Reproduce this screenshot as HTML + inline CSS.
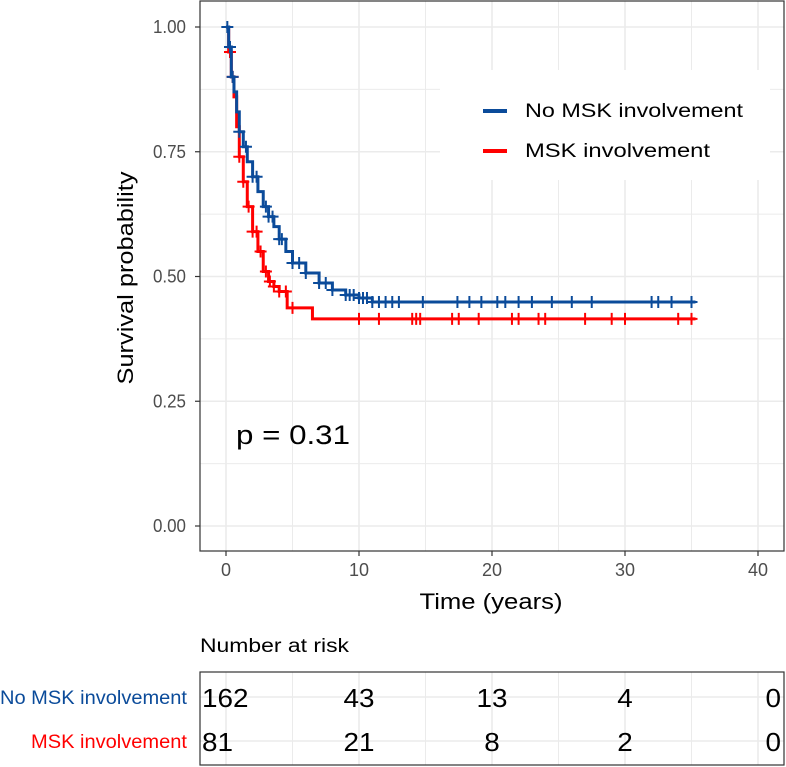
<!DOCTYPE html>
<html><head><meta charset="utf-8"><style>
body{margin:0;background:#fff;}
svg{display:block;font-family:"Liberation Sans",Arial,sans-serif;}
</style></head><body>
<svg id="chart" width="786" height="767" viewBox="0 0 786 767">
<g id="grid"></g>
<g id="curves"></g>
<rect x="200" y="1" width="584" height="550" fill="none" stroke="#333" stroke-width="1.2"/>
<g id="axes"></g>
<text x="0" y="0" transform="translate(133,278) rotate(-90)" text-anchor="middle" font-size="22" textLength="213" lengthAdjust="spacingAndGlyphs" fill="#000">Survival probability</text>
<text x="491" y="609" text-anchor="middle" font-size="22" textLength="143" lengthAdjust="spacingAndGlyphs" fill="#000">Time (years)</text>
<text x="236" y="444" font-size="27" textLength="114" lengthAdjust="spacingAndGlyphs" fill="#000">p = 0.31</text>
<g>
<rect x="440" y="70" width="330" height="110" fill="#fff"/>
<line x1="483" y1="111" x2="507" y2="111" stroke="#0b4b9a" stroke-width="4"/>
<text x="525" y="117" font-size="19" textLength="218" lengthAdjust="spacingAndGlyphs">No MSK involvement</text>
<line x1="483" y1="151" x2="507" y2="151" stroke="#f00" stroke-width="4"/>
<text x="525" y="157" font-size="19" textLength="185" lengthAdjust="spacingAndGlyphs">MSK involvement</text>
</g>
<text x="200" y="652" font-size="19" textLength="149" lengthAdjust="spacingAndGlyphs">Number at risk</text>
<g id="risk"></g>
</svg>
<script>
const xTicks=[0,10,20,30,40];
const yTicks=[0,0.25,0.5,0.75,1];
const yTickLabels=["0.00","0.25","0.50","0.75","1.00"];
const blueT=[0,0.2,0.4,0.6,0.8,1,1.3,1.6,2,2.4,2.8,3.2,3.6,4,4.5,5,6,7,8,9,10,11,35.3];
const blueS=[1,0.96,0.9,0.87,0.83,0.79,0.76,0.73,0.70,0.67,0.64,0.62,0.6,0.575,0.55,0.527,0.507,0.487,0.473,0.463,0.457,0.449,0.449];
const redT=[0,0.2,0.4,0.6,0.8,1,1.3,1.6,2,2.4,2.8,3.2,3.6,4,4.6,6.5,35.3];
const redS=[1,0.95,0.9,0.86,0.8,0.74,0.69,0.64,0.59,0.55,0.51,0.49,0.48,0.47,0.437,0.415,0.415];
const blueCens=[0.1,0.3,0.5,1,1.5,2,2.3,3,3.2,3.5,4,4.2,5,5.5,6,7,7.5,8,9,9.3,9.6,10,10.3,10.6,11,11.5,12,12.5,13,14.8,17.4,18.3,19.2,20.4,21,22,23,24.5,26,27.5,32,32.5,33.5,35];
const redCens=[0.3,0.5,1,1.3,1.7,2,2.3,2.6,3,3.3,3.6,4,4.5,5,10,11.5,14,14.3,14.6,17,17.5,19,21.5,22,23.5,24,27,29,30,34,35];
const riskGroups=["No MSK involvement","MSK involvement"];
const riskBlue=[162,43,13,4,0];
const riskRed=[81,21,8,2,0];
const NS="http://www.w3.org/2000/svg";
const X=t=>226+t*13.3, Y=s=>526-s*499;
function mk(tag,at,parent){const e=document.createElementNS(NS,tag);for(const k in at)e.setAttribute(k,at[k]);parent.appendChild(e);return e;}
const grid=document.getElementById('grid'),axes=document.getElementById('axes'),curves=document.getElementById('curves'),risk=document.getElementById('risk');
for(let v=0;v<=40;v+=5){const l=mk('line',{x1:X(v),x2:X(v),y1:1,y2:551,stroke:'#ebebeb','stroke-width':v%10?1:1.6},grid);


const l2=mk('line',{x1:X(v),x2:X(v),y1:672,y2:765,stroke:'#ebebeb','stroke-width':v%10?1:1.6},risk);

}
for(let v=0;v<=1.001;v+=0.125){const l=mk('line',{x1:200,x2:784,y1:Y(v),y2:Y(v),stroke:'#ebebeb','stroke-width':Math.abs(v*4-Math.round(v*4))<0.01?1.6:1},grid);

}
[697,741].forEach(y=>{const l=mk('line',{x1:200,x2:784,y1:y,y2:y,stroke:'#ebebeb','stroke-width':1.6},risk);

});
xTicks.forEach(v=>{const l=mk('line',{x1:X(v),x2:X(v),y1:551,y2:556,stroke:'#333','stroke-width':1.2},axes);


const t=mk('text',{x:X(v),y:576,'text-anchor':'middle','font-size':18,fill:'#4d4d4d'},axes);t.textContent=v;

});
yTicks.forEach((v,i)=>{const l=mk('line',{x1:195,x2:200,y1:Y(v),y2:Y(v),stroke:'#333','stroke-width':1.2},axes);


const t=mk('text',{x:186,y:Y(v)+6,'text-anchor':'end','font-size':18,textLength:33,lengthAdjust:'spacingAndGlyphs',fill:'#4d4d4d'},axes);t.textContent=yTickLabels[i];

});
function stepAt(T,S,t){let s=S[0];for(let i=0;i<T.length;i++){if(T[i]<=t)s=S[i];}return s;}
function drawCurve(T,S,C,color,name){let d='M'+X(T[0])+','+Y(S[0]);for(let i=1;i<T.length;i++){d+='H'+X(T[i])+'V'+Y(S[i]);}
const p=mk('path',{d:d,fill:'none',stroke:color,'stroke-width':3},curves);


C.forEach(t=>{const s=stepAt(T,S,t),cx=X(t),cy=Y(s);
const m=mk('path',{d:`M${cx-6},${cy}H${cx+6}M${cx},${cy-6}V${cy+6}`,stroke:color,'stroke-width':2},curves);

});}
drawCurve(redT,redS,redCens,'#f00','msk');
drawCurve(blueT,blueS,blueCens,'#0b4b9a','no-msk');
const box=mk('rect',{x:200,y:672,width:584,height:93,fill:'none',stroke:'#333','stroke-width':1.2},risk);


const glen=[187,156];
[[riskBlue,697,'#0b4b9a'],[riskRed,741,'#f00']].forEach((r,ri)=>{
const g=mk('text',{x:187,y:r[1]+7,'text-anchor':'end','font-size':19,textLength:glen[ri],lengthAdjust:'spacingAndGlyphs',fill:r[2]},risk);g.textContent=riskGroups[ri];


r[0].forEach((v,i)=>{const anc=i==0?'start':(i==4?'end':'middle');const x=i==0?202:(i==4?781:X(xTicks[i]));
const len=String(v).length*15.5;
const t=mk('text',{x:x,y:r[1]+10,'text-anchor':anc,'font-size':26,textLength:len,lengthAdjust:'spacingAndGlyphs',fill:'#000'},risk);t.textContent=v;

});});
</script>
</body></html>
